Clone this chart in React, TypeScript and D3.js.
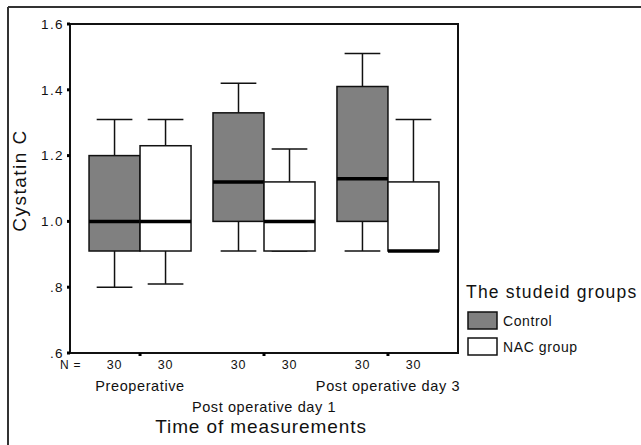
import React from 'react';
import * as d3 from 'd3';

// time points on the x axis
const timePoints = ['Preoperative', 'Post operative day 1', 'Post operative day 3'];
const groups = ['Control', 'NAC group'];

// box statistics per time point
const controlMin = [0.80, 0.91, 0.91];
const controlQ1 = [0.91, 1.00, 1.00];
const controlMedian = [1.00, 1.12, 1.13];
const controlQ3 = [1.20, 1.33, 1.41];
const controlMax = [1.31, 1.42, 1.51];

const nacMin = [0.81, 0.91, 0.91];
const nacQ1 = [0.91, 0.91, 0.91];
const nacMedian = [1.00, 1.00, 0.91];
const nacQ3 = [1.23, 1.12, 1.12];
const nacMax = [1.31, 1.22, 1.31];

const controlN = [30, 30, 30];
const nacN = [30, 30, 30];

const yTicks = [0.6, 0.8, 1.0, 1.2, 1.4, 1.6];

const groupFill = ['#808080', '#ffffff'];
const font = 'Liberation Sans, Arial, sans-serif';

// SPSS style labels: ".8" but "1.0"
const fmt = (v: number) => d3.format('.1f')(v).replace(/^0\./, '.');

export default function App() {
  const margin = { top: 24, left: 70 };
  const plotW = 388;
  const plotH = 329;

  const x = d3.scalePoint<string>().domain(timePoints).range([0, plotW]).padding(0.565);
  const offset = d3.scaleBand<string>().domain(groups).range([-51, 51]).padding(0);
  const y = d3.scaleLinear().domain([0.6, 1.6]).range([plotH, 0]);

  const boxes = timePoints.flatMap((t, i) => [
    { t, g: groups[0], min: controlMin[i], q1: controlQ1[i], med: controlMedian[i], q3: controlQ3[i], max: controlMax[i], n: controlN[i], fill: groupFill[0] },
    { t, g: groups[1], min: nacMin[i], q1: nacQ1[i], med: nacMedian[i], q3: nacQ3[i], max: nacMax[i], n: nacN[i], fill: groupFill[1] },
  ]);

  const bw = offset.bandwidth();
  const capW = bw * 0.7;

  return (
    <svg width={641} height={445} style={{ position: 'absolute', left: 0, top: 0, background: '#fff' }} fontFamily={font}>
      {/* outer figure frame */}
      <line x1={8} y1={7} x2={641} y2={7} stroke="#333" strokeWidth={2} />
      <line x1={8} y1={7} x2={8} y2={445} stroke="#333" strokeWidth={2} />

      <g transform={`translate(${margin.left},${margin.top})`}>
        {boxes.map((b, i) => {
          const x0 = (x(b.t) as number) + (offset(b.g) as number);
          const cx = x0 + bw / 2;
          return (
            <g key={i}>
              {/* whiskers */}
              <line x1={cx} x2={cx} y1={y(b.q3)} y2={y(b.max)} stroke="#111" strokeWidth={1.5} />
              <line x1={cx - capW / 2} x2={cx + capW / 2} y1={y(b.max)} y2={y(b.max)} stroke="#111" strokeWidth={1.5} />
              <line x1={cx} x2={cx} y1={y(b.q1)} y2={y(b.min)} stroke="#111" strokeWidth={1.5} />
              <line x1={cx - capW / 2} x2={cx + capW / 2} y1={y(b.min)} y2={y(b.min)} stroke="#111" strokeWidth={1.5} />
              <rect x={x0} y={y(b.q3)} width={bw} height={y(b.q1) - y(b.q3)} fill={b.fill} stroke="#111" strokeWidth={1.5} />
              <line x1={x0} x2={x0 + bw} y1={y(b.med)} y2={y(b.med)} stroke="#000" strokeWidth={3.5} />
              <text x={cx} y={plotH + 16} textAnchor="middle" fontSize={12.5} letterSpacing={0.8} fill="#111">{b.n}</text>
            </g>
          );
        })}

        {/* plot frame */}
        <rect x={0} y={0} width={plotW} height={plotH} fill="none" stroke="#111" strokeWidth={2} />

        {/* y axis ticks */}
        {yTicks.map(t => (
          <g key={t} transform={`translate(0,${y(t)})`}>
            <rect x={-3} y={-1.5} width={3} height={3} fill="#000" />
            <text x={-6} dy="0.35em" textAnchor="end" fontSize={13.5} letterSpacing={1.4} fill="#111">{fmt(t)}</text>
          </g>
        ))}

        {/* x axis ticks and labels */}
        {timePoints.map((t, i) => (
          <g key={t} transform={`translate(${x(t)},${plotH})`}>
            <rect x={-1.5} y={0} width={3} height={3} fill="#000" />
            <text y={i % 2 === 0 ? 38 : 59} textAnchor="middle" fontSize={14.5} letterSpacing={0.6} fill="#111">{t}</text>
          </g>
        ))}
        <text x={-10} y={plotH + 16} fontSize={12} letterSpacing={0.8} fill="#111">N =</text>

        <text transform={`translate(-44,${plotH / 2 - 8}) rotate(-90)`} textAnchor="middle" fontSize={19} letterSpacing={1.5} fill="#111">Cystatin C</text>
        <text x={plotW / 2 - 3} y={plotH + 80} textAnchor="middle" fontSize={19} letterSpacing={0.9} fill="#111">Time of measurements</text>
      </g>

      {/* legend */}
      <g>
        <text x={466} y={298} fontSize={17.5} letterSpacing={1.2} fill="#111">The studeid groups</text>
        {groups.map((g, i) => (
          <g key={g} transform={`translate(468,${312 + i * 26})`}>
            <rect x={0} y={0} width={29} height={17} fill={groupFill[i]} stroke="#111" strokeWidth={1.5} />
            <text x={35} y={14} fontSize={14} letterSpacing={0.6} fill="#111">{g}</text>
          </g>
        ))}
      </g>
    </svg>
  );
}
